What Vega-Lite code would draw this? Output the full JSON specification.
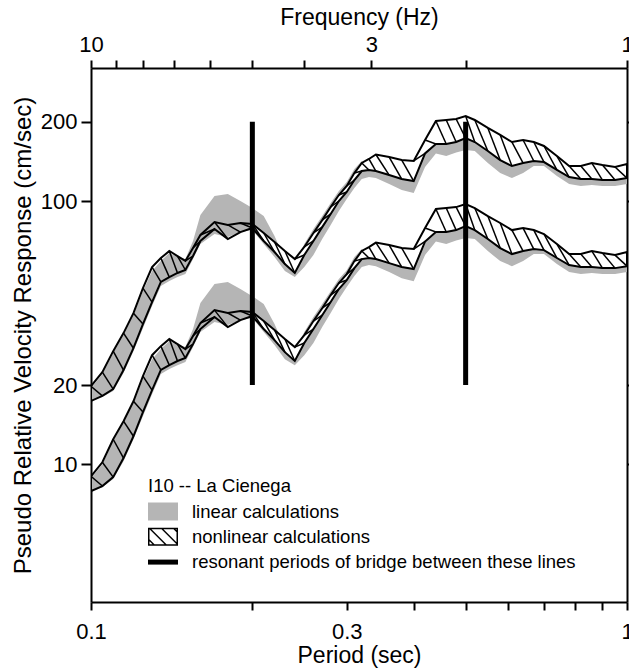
{
  "$schema": "https://vega.github.io/schema/vega-lite/v6.json",
  "width": 536,
  "height": 534,
  "autosize": {"type": "none"},
  "padding": {"left": 91, "top": 68, "right": 2, "bottom": 69},
  "background": "white",
  "config": {
    "view": {"stroke": null},
    "font": "Liberation Sans",
    "axis": {
      "domainColor": "black", "domainWidth": 2, "tickColor": "black", "tickWidth": 2,
      "labelColor": "black", "titleColor": "black", "titleFontWeight": "normal",
      "grid": false, "labelFontSize": 22, "titleFontSize": 23,
      "labelOverlap": false, "labelFlush": false, "zindex": 1
    }
  },
  "datasets": {
    "spectra": [
      {"g":"u","period":0.1,"nt":19.8,"nb":17.4,"lt":19.5,"lb":17.6},
      {"g":"u","period":0.105,"nt":22.4,"nb":18.2,"lt":22.0,"lb":18.0},
      {"g":"u","period":0.11,"nt":26.9,"nb":19.3,"lt":26.5,"lb":19.0},
      {"g":"u","period":0.115,"nt":31.5,"nb":22.8,"lt":31.0,"lb":22.2},
      {"g":"u","period":0.12,"nt":37.5,"nb":27.6,"lt":36.9,"lb":26.9},
      {"g":"u","period":0.125,"nt":46.7,"nb":34.1,"lt":45.5,"lb":32.9},
      {"g":"u","period":0.13,"nt":56.1,"nb":41.3,"lt":54.2,"lb":39.9},
      {"g":"u","period":0.135,"nt":60.7,"nb":49.3,"lt":59.2,"lb":47.6},
      {"g":"u","period":0.14,"nt":64.6,"nb":51.4,"lt":63.5,"lb":49.7},
      {"g":"u","period":0.145,"nt":61.8,"nb":53.3,"lt":61.3,"lb":51.4},
      {"g":"u","period":0.15,"nt":59.2,"nb":54.7,"lt":60.2,"lb":52.8},
      {"g":"u","period":0.155,"nt":66.3,"nb":61.8,"lt":70.5,"lb":60.2},
      {"g":"u","period":0.16,"nt":74.3,"nb":70.5,"lt":88.5,"lb":68.7},
      {"g":"u","period":0.17,"nt":83.2,"nb":78.3,"lt":104.5,"lb":74.9},
      {"g":"u","period":0.18,"nt":81.1,"nb":71.7,"lt":106.4,"lb":73.0},
      {"g":"u","period":0.19,"nt":82.5,"nb":76.2,"lt":100,"lb":76.2},
      {"g":"u","period":0.2,"nt":81.8,"nb":79.0,"lt":94.0,"lb":77.6},
      {"g":"u","period":0.21,"nt":75.6,"nb":70.5,"lt":87.7,"lb":68.7},
      {"g":"u","period":0.22,"nt":69.9,"nb":64.0,"lt":73.6,"lb":61.3},
      {"g":"u","period":0.23,"nt":64.6,"nb":57.6,"lt":60.2,"lb":54.2},
      {"g":"u","period":0.24,"nt":60.2,"nb":53.3,"lt":57.6,"lb":51.4},
      {"g":"u","period":0.25,"nt":66.9,"nb":62.4,"lt":68.7,"lb":56.1},
      {"g":"u","period":0.26,"nt":75.6,"nb":70.5,"lt":78.3,"lb":62.4},
      {"g":"u","period":0.27,"nt":84.6,"nb":79.6,"lt":87.7,"lb":71.7},
      {"g":"u","period":0.28,"nt":94.9,"nb":89.3,"lt":98.2,"lb":81.1},
      {"g":"u","period":0.29,"nt":105.4,"nb":100,"lt":109.1,"lb":91.6},
      {"g":"u","period":0.3,"nt":114.0,"nb":108.2,"lt":118.0,"lb":101.8},
      {"g":"u","period":0.31,"nt":127.7,"nb":120.1,"lt":132.3,"lb":112.0},
      {"g":"u","period":0.32,"nt":139.5,"nb":130.0,"lt":141.9,"lb":121.2},
      {"g":"u","period":0.33,"nt":144.4,"nb":131.2,"lt":132.3,"lb":123.3},
      {"g":"u","period":0.34,"nt":150.2,"nb":130.0,"lt":131.2,"lb":122.2},
      {"g":"u","period":0.36,"nt":146.9,"nb":125.5,"lt":126.6,"lb":116.0},
      {"g":"u","period":0.38,"nt":143.1,"nb":121.2,"lt":122.2,"lb":110.0},
      {"g":"u","period":0.4,"nt":141.9,"nb":119.1,"lt":118.0,"lb":107.2},
      {"g":"u","period":0.42,"nt":170.5,"nb":151.6,"lt":152.9,"lb":134.6},
      {"g":"u","period":0.44,"nt":201.3,"nb":164.7,"lt":167.5,"lb":151.6},
      {"g":"u","period":0.46,"nt":203.1,"nb":164.7,"lt":167.5,"lb":148.2},
      {"g":"u","period":0.48,"nt":204.8,"nb":167.5,"lt":170.5,"lb":152.9},
      {"g":"u","period":0.5,"nt":210.2,"nb":173.4,"lt":176.6,"lb":156.3},
      {"g":"u","period":0.52,"nt":203.1,"nb":167.5,"lt":170.5,"lb":154.9},
      {"g":"u","period":0.55,"nt":189.4,"nb":154.9,"lt":157.6,"lb":139.4},
      {"g":"u","period":0.58,"nt":178.2,"nb":143.1,"lt":146.9,"lb":127.7},
      {"g":"u","period":0.61,"nt":167.5,"nb":135.8,"lt":138.2,"lb":122.2},
      {"g":"u","period":0.64,"nt":170.5,"nb":139.4,"lt":141.9,"lb":127.7},
      {"g":"u","period":0.67,"nt":167.5,"nb":141.9,"lt":144.4,"lb":135.8},
      {"g":"u","period":0.7,"nt":161.8,"nb":140.6,"lt":143.1,"lb":135.8},
      {"g":"u","period":0.74,"nt":148.2,"nb":131.2,"lt":133.5,"lb":124.4},
      {"g":"u","period":0.78,"nt":135.8,"nb":123.3,"lt":125.5,"lb":116.0},
      {"g":"u","period":0.82,"nt":135.8,"nb":121.2,"lt":123.3,"lb":114.0},
      {"g":"u","period":0.86,"nt":139.4,"nb":121.2,"lt":123.3,"lb":115.0},
      {"g":"u","period":0.9,"nt":137.0,"nb":120.1,"lt":122.2,"lb":114.0},
      {"g":"u","period":0.95,"nt":134.6,"nb":120.1,"lt":122.2,"lb":114.0},
      {"g":"u","period":1.0,"nt":138.2,"nb":122.2,"lt":124.4,"lb":116.0},
      {"g":"l","period":0.1,"nt":9.0,"nb":7.91,"lt":8.86,"lb":8.0},
      {"g":"l","period":0.105,"nt":10.18,"nb":8.27,"lt":10.0,"lb":8.18},
      {"g":"l","period":0.11,"nt":12.45,"nb":8.94,"lt":12.27,"lb":8.8},
      {"g":"l","period":0.115,"nt":14.58,"nb":10.56,"lt":14.35,"lb":10.28},
      {"g":"l","period":0.12,"nt":17.36,"nb":12.78,"lt":17.08,"lb":12.45},
      {"g":"l","period":0.125,"nt":21.62,"nb":15.79,"lt":21.07,"lb":15.23},
      {"g":"l","period":0.13,"nt":25.97,"nb":19.12,"lt":25.09,"lb":18.47},
      {"g":"l","period":0.135,"nt":28.1,"nb":22.83,"lt":27.41,"lb":22.04},
      {"g":"l","period":0.14,"nt":29.91,"nb":23.8,"lt":29.4,"lb":23.01},
      {"g":"l","period":0.145,"nt":28.61,"nb":24.68,"lt":28.38,"lb":23.8},
      {"g":"l","period":0.15,"nt":27.41,"nb":25.33,"lt":27.87,"lb":24.45},
      {"g":"l","period":0.155,"nt":30.7,"nb":28.61,"lt":32.64,"lb":27.87},
      {"g":"l","period":0.16,"nt":34.4,"nb":32.64,"lt":40.98,"lb":31.81},
      {"g":"l","period":0.17,"nt":38.52,"nb":36.25,"lt":48.38,"lb":34.68},
      {"g":"l","period":0.18,"nt":37.55,"nb":33.2,"lt":49.26,"lb":33.8},
      {"g":"l","period":0.19,"nt":38.2,"nb":35.28,"lt":46.3,"lb":35.28},
      {"g":"l","period":0.2,"nt":37.87,"nb":36.58,"lt":43.52,"lb":35.93},
      {"g":"l","period":0.21,"nt":35.0,"nb":32.64,"lt":40.61,"lb":31.81},
      {"g":"l","period":0.22,"nt":32.36,"nb":29.63,"lt":34.08,"lb":28.38},
      {"g":"l","period":0.23,"nt":29.91,"nb":26.67,"lt":27.87,"lb":25.09},
      {"g":"l","period":0.24,"nt":27.87,"nb":24.68,"lt":26.67,"lb":23.8},
      {"g":"l","period":0.25,"nt":30.97,"nb":28.89,"lt":31.81,"lb":25.97},
      {"g":"l","period":0.26,"nt":35.0,"nb":32.64,"lt":36.25,"lb":28.89},
      {"g":"l","period":0.27,"nt":39.17,"nb":36.85,"lt":40.61,"lb":33.2},
      {"g":"l","period":0.28,"nt":43.94,"nb":41.34,"lt":45.46,"lb":37.55},
      {"g":"l","period":0.29,"nt":48.8,"nb":46.3,"lt":50.51,"lb":42.41},
      {"g":"l","period":0.3,"nt":52.78,"nb":50.09,"lt":54.63,"lb":47.13},
      {"g":"l","period":0.31,"nt":59.12,"nb":55.61,"lt":61.25,"lb":51.86},
      {"g":"l","period":0.32,"nt":64.59,"nb":60.19,"lt":65.7,"lb":56.12},
      {"g":"l","period":0.33,"nt":66.86,"nb":60.75,"lt":61.25,"lb":57.09},
      {"g":"l","period":0.34,"nt":69.54,"nb":60.19,"lt":60.75,"lb":56.58},
      {"g":"l","period":0.36,"nt":68.01,"nb":58.11,"lt":58.62,"lb":53.71},
      {"g":"l","period":0.38,"nt":66.26,"nb":56.12,"lt":56.58,"lb":50.93},
      {"g":"l","period":0.4,"nt":65.7,"nb":55.14,"lt":54.63,"lb":49.63},
      {"g":"l","period":0.42,"nt":78.94,"nb":70.19,"lt":70.79,"lb":62.32},
      {"g":"l","period":0.44,"nt":93.2,"nb":76.26,"lt":77.55,"lb":70.19},
      {"g":"l","period":0.46,"nt":94.04,"nb":76.26,"lt":77.55,"lb":68.62},
      {"g":"l","period":0.48,"nt":94.82,"nb":77.55,"lt":78.94,"lb":70.79},
      {"g":"l","period":0.5,"nt":97.32,"nb":80.28,"lt":81.77,"lb":72.37},
      {"g":"l","period":0.52,"nt":94.04,"nb":77.55,"lt":78.94,"lb":71.72},
      {"g":"l","period":0.55,"nt":87.69,"nb":71.72,"lt":72.97,"lb":64.54},
      {"g":"l","period":0.58,"nt":82.51,"nb":66.26,"lt":68.01,"lb":59.13},
      {"g":"l","period":0.61,"nt":77.55,"nb":62.88,"lt":63.99,"lb":56.58},
      {"g":"l","period":0.64,"nt":78.94,"nb":64.54,"lt":65.7,"lb":59.13},
      {"g":"l","period":0.67,"nt":77.55,"nb":65.7,"lt":66.86,"lb":62.88},
      {"g":"l","period":0.7,"nt":74.91,"nb":65.1,"lt":66.26,"lb":62.88},
      {"g":"l","period":0.74,"nt":68.62,"nb":60.75,"lt":61.81,"lb":57.6},
      {"g":"l","period":0.78,"nt":62.88,"nb":57.09,"lt":58.11,"lb":53.71},
      {"g":"l","period":0.82,"nt":62.88,"nb":56.12,"lt":57.09,"lb":52.78},
      {"g":"l","period":0.86,"nt":64.54,"nb":56.12,"lt":57.09,"lb":53.25},
      {"g":"l","period":0.9,"nt":63.43,"nb":55.61,"lt":56.58,"lb":52.78},
      {"g":"l","period":0.95,"nt":62.32,"nb":55.61,"lt":56.58,"lb":52.78},
      {"g":"l","period":1.0,"nt":63.99,"nb":56.58,"lt":57.6,"lb":53.71}
    ],
    "bridge": [
      {"period": 0.2, "lo": 20, "hi": 200},
      {"period": 0.5, "lo": 20, "hi": 200}
    ],
    "legend": [
      {"entry": "linear calculations"},
      {"entry": "nonlinear calculations"},
      {"entry": "resonant periods of bridge between these lines"}
    ]
  },
  "resolve": {"axis": {"x": "independent", "y": "independent"}},
  "layer": [
    {
      "data": {"name": "spectra"},
      "mark": {"type": "area", "color": "#b5b5b5", "clip": true},
      "encoding": {
        "x": {"field": "period", "type": "quantitative",
          "scale": {"type": "log", "domain": [0.1, 1], "nice": false},
          "axis": {"orient": "bottom", "values": [0.1,0.2,0.3,0.4,0.5,0.6,0.7,0.8,0.9,1],
            "labelExpr": "datum.value==0.1?'0.1':datum.value==0.3?'0.3':datum.value==1?'1':''",
            "title": "Period (sec)", "tickSize": 8, "labelPadding": 11, "titlePadding": 2}},
        "y": {"field": "lt", "type": "quantitative",
          "scale": {"type": "log", "domain": [3, 320], "nice": false},
          "axis": {"orient": "left", "values": [10, 20, 100, 200], "labelExpr": "''+datum.value",
            "title": "Pseudo Relative Velocity Response (cm/sec)", "titleFontSize": 24, "tickSize": 10, "labelPadding": 4, "titlePadding": 5}},
        "y2": {"field": "lb"},
        "detail": {"field": "g"}
      }
    },
    {
      "data": {"name": "spectra"},
      "transform": [{"filter": "datum.period >= 0.2"}],
      "mark": {"type": "area", "color": "white", "clip": true},
      "encoding": {
        "x": {"field": "period", "type": "quantitative",
          "scale": {"type": "log", "domain": [0.1, 1], "nice": false},
          "axis": {"orient": "top", "values": [0.1,0.1111111,0.125,0.1428571,0.1666667,0.2,0.25,0.3333333,0.5,1],
            "labelExpr": "datum.value==0.1?'10':datum.value==0.3333333?'3':datum.value==1?'1':''",
            "title": "Frequency (Hz)", "tickSize": 8, "labelPadding": 4, "titlePadding": 4}},
        "y": {"field": "nt", "type": "quantitative",
          "scale": {"type": "log", "domain": [3, 320], "nice": false},
          "axis": {"orient": "right", "values": [10, 20, 100, 200], "labels": false, "title": null, "tickSize": 8}},
        "y2": {"field": "nb"},
        "detail": {"field": "g"}
      }
    },
    {
      "data": {"name": "spectra"},
      "transform": [
        {"window": [{"op": "lead", "field": "period", "as": "p2"}, {"op": "lead", "field": "nb", "as": "nb2"}],
         "groupby": ["g"], "sort": [{"field": "period", "order": "ascending"}]},
        {"filter": "datum.p2 != null"}
      ],
      "mark": {"type": "rule", "color": "black", "strokeWidth": 1.5, "clip": true},
      "encoding": {
        "x": {"field": "period", "type": "quantitative", "axis": null},
        "x2": {"field": "p2"},
        "y": {"field": "nt", "type": "quantitative", "axis": null},
        "y2": {"field": "nb2"}
      }
    },
    {
      "data": {"name": "spectra"},
      "mark": {"type": "area", "fillOpacity": 0, "stroke": "black", "strokeWidth": 2, "strokeJoin": "miter", "clip": true},
      "encoding": {
        "x": {"field": "period", "type": "quantitative", "axis": null},
        "y": {"field": "nt", "type": "quantitative", "axis": null},
        "y2": {"field": "nb"},
        "detail": {"field": "g"}
      }
    },
    {
      "data": {"name": "bridge"},
      "mark": {"type": "rule", "color": "black", "strokeWidth": 5, "strokeCap": "butt"},
      "encoding": {
        "x": {"field": "period", "type": "quantitative", "axis": null},
        "y": {"field": "lo", "type": "quantitative", "axis": null},
        "y2": {"field": "hi"}
      }
    },
    {
      "data": {"name": "legend"},
      "transform": [{"filter": "false"}],
      "mark": {"type": "point", "filled": true, "opacity": 1, "strokeWidth": 0},
      "encoding": {
        "fill": {"field": "entry", "type": "nominal",
          "scale": {"domain": ["linear calculations", "nonlinear calculations", "resonant periods of bridge between these lines"],
                    "range": ["#b5b5b5", "#000000", "#000000"]},
          "legend": {"title": "I10 -- La Cienega", "orient": "none", "legendX": 57, "legendY": 409,
            "titleFontSize": 18.5, "titleFontWeight": "normal", "titleColor": "black",
            "labelFontSize": 18.5, "labelColor": "black", "symbolSize": 400, "symbolStrokeWidth": 0,
            "labelOffset": 24, "rowPadding": 5.3, "titlePadding": 6, "padding": 0, "symbolOpacity": 1,
            "titleLimit": 0, "labelLimit": 0}},
        "shape": {"field": "entry", "type": "nominal",
          "scale": {"domain": ["linear calculations", "nonlinear calculations", "resonant periods of bridge between these lines"],
                    "range": ["M-1,-0.9H2V0.9H-1Z",
                              "M-1,-0.9H2V0.9H-1Z M-0.85,-0.75V0.75H1.85V-0.75Z M-1,-0.9L-0.8,-0.9L1,0.9L0.8,0.9Z M0.2,-0.9L0.4,-0.9L2,0.7L2,0.9Z M-1,0.3L-1,0.1L-0.2,0.9L-0.4,0.9Z M1.4,-0.9L1.6,-0.9L2,-0.5L2,-0.3Z",
                              "M-1,-0.25H2V0.25H-1Z"]}}
      }
    }
  ]
}
